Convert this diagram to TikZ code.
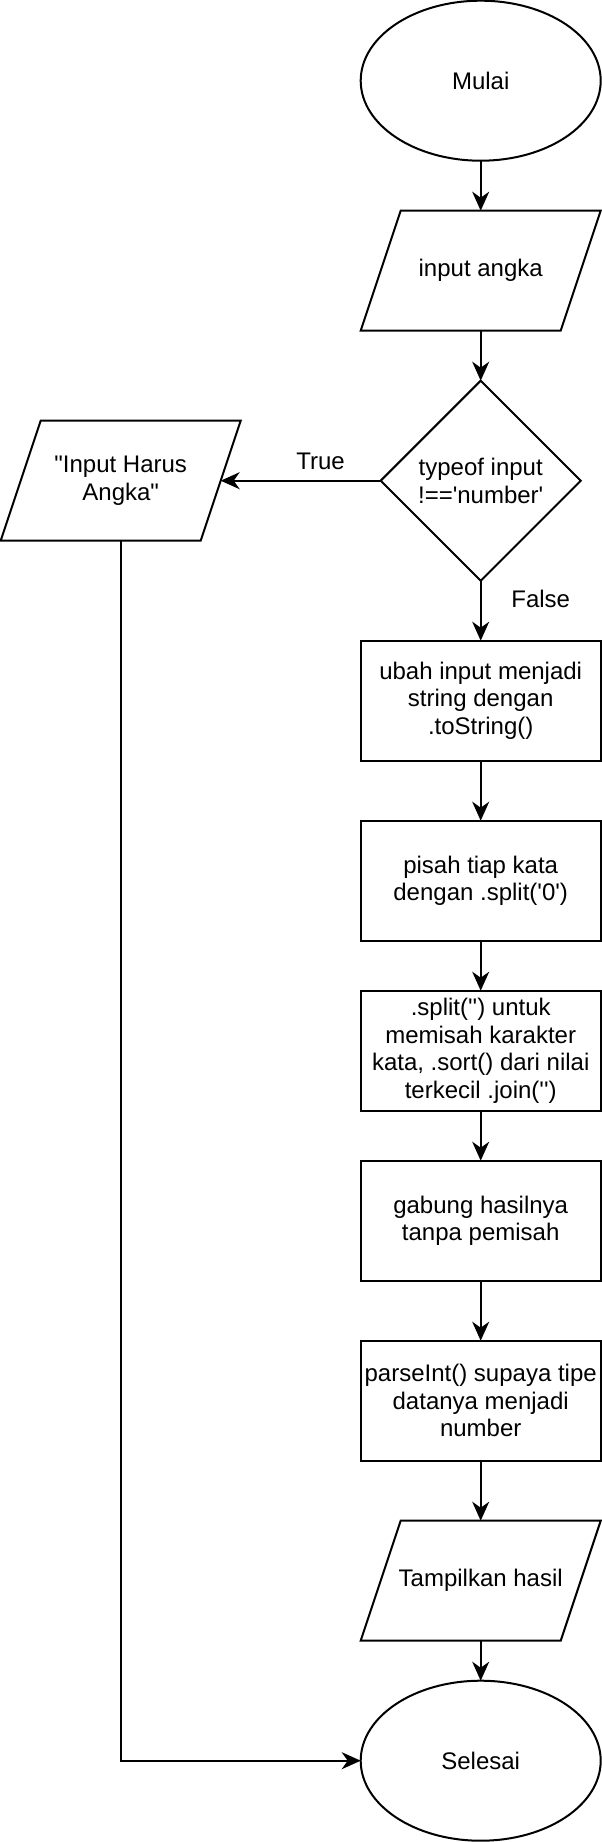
\documentclass[tikz,border=0pt]{standalone}
\usepackage{fontspec}
\setmainfont{Liberation Sans}[Ligatures=TeXOff]
\usetikzlibrary{shapes.geometric, arrows.meta, positioning}

\begin{document}
\begin{tikzpicture}[
    x=1pt, y=1pt,
    node distance=60pt,
    >={Stealth[length=19pt, width=17pt, inset=6pt]},
    shapebox/.style={draw, line width=2pt, outer sep=0pt, inner sep=0pt, align=center, font=\fontsize{24}{27.6}\selectfont},
    term/.style={shapebox, ellipse, minimum width=240pt, minimum height=160pt},
    io/.style={shapebox, draw=none, rectangle, minimum width=240pt, minimum height=120pt,
      append after command={\pgfextra{\draw[line width=2pt, line join=miter]
        (\tikzlastnode.south west) -- ([xshift=40pt]\tikzlastnode.north west)
        -- (\tikzlastnode.north east) -- ([xshift=-40pt]\tikzlastnode.south east) -- cycle;}}},
    proc/.style={shapebox, rectangle, minimum width=240pt, minimum height=120pt},
    decision/.style={shapebox, diamond, aspect=1, minimum width=200pt, minimum height=200pt},
    lbl/.style={inner sep=0pt, font=\fontsize{24}{27.6}\selectfont},
    flow/.style={->, line width=2pt}
  ]
    \useasboundingbox (0,0) rectangle (602,-1842);

    \node[term] (start) at (480.7,-80.7) {Mulai};
    \node[io, below=50pt of start] (inp) {input angka};
    \node[decision, below=50pt of inp] (cek) {typeof input\\!=='number'};
    \node[io] (err) at (120.7,-480.7) {"Input Harus\\Angka"};
    \node[proc, below=of cek] (str) {ubah input menjadi\\string dengan\\.toString()};
    \node[proc, below=of str] (pisah) {pisah tiap kata\\dengan .split('0')};
    \node[proc, below=50pt of pisah] (urut) {.split('') untuk\\memisah karakter\\kata, .sort() dari nilai\\terkecil .join('')};
    \node[proc, below=50pt of urut] (gabung) {gabung hasilnya\\tanpa pemisah};
    \node[proc, below=of gabung] (parse) {parseInt() supaya tipe\\datanya menjadi\\number};
    \node[io, below=of parse] (out) {Tampilkan hasil};
    \node[term, below=40pt of out] (finish) {Selesai};

    \draw[flow] (start) -- (inp);
    \draw[flow] (inp) -- (cek);
    \draw[flow, shorten >=-20pt] (cek.west) -- node[lbl, pos=0.43, anchor=base, yshift=11.7pt] (lbltrue) {True} (err);
    \draw[flow] (cek) -- node[lbl, pos=0.45, anchor=base, xshift=60pt] (lblfalse) {False} (str);
    \draw[flow] (str) -- (pisah);
    \draw[flow] (pisah) -- (urut);
    \draw[flow] (urut) -- (gabung);
    \draw[flow] (gabung) -- (parse);
    \draw[flow] (parse) -- (out);
    \draw[flow] (out) -- (finish);
    \draw[flow] (err) |- (finish);
  \end{tikzpicture}
\end{document}
